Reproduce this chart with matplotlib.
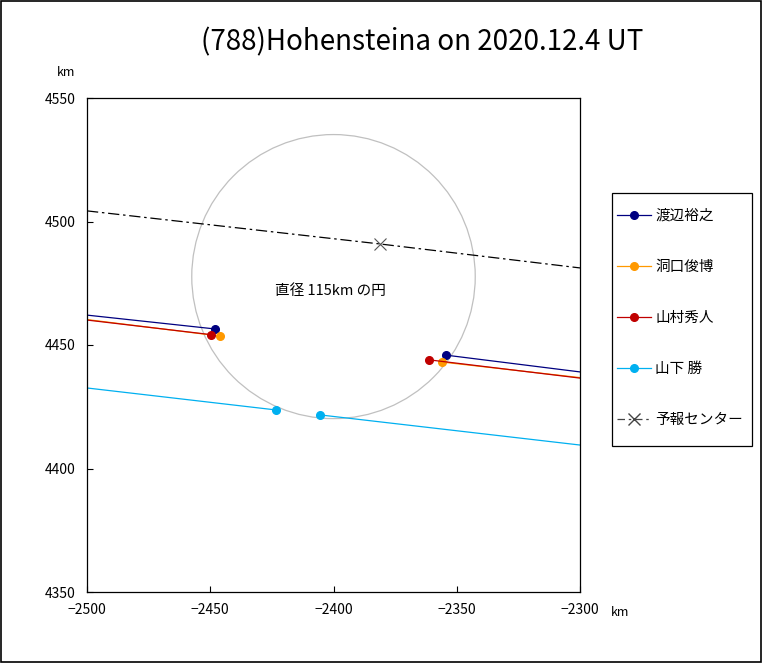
import matplotlib
matplotlib.use("Agg")
import matplotlib.pyplot as plt
from matplotlib.patches import Circle, Rectangle

plt.rcParams['font.family'] = ['Noto Sans CJK JP', 'DejaVu Sans']

# observer chords: x/y at left edge, disappearance, reappearance, right edge (km)
observers = ["渡辺裕之", "洞口俊博", "山村秀人", "山下 勝"]
colors = ["#000080", "#FF9900", "#C00000", "#00B0F0"]
chord_x = [
    [-2500, -2448.1, -2354.4, -2300],
    [-2500, -2446.0, -2356.0, -2300],
    [-2500, -2449.7, -2361.3, -2300],
    [-2500, -2423.3, -2405.5, -2300],
]
chord_y = [
    [4462.1, 4456.5, 4445.9, 4439.1],
    [4460.3, 4453.6, 4443.1, 4436.8],
    [4460.1, 4454.2, 4444.0, 4436.6],
    [4432.6, 4423.7, 4421.7, 4409.5],
]

# prediction center line
center_x = [-2500, -2381.1, -2300]
center_y = [4504.3, 4490.9, 4481.2]

circle_center = (-2400, 4477.7)
circle_diameter = 115

fig = plt.figure(figsize=(7.63, 6.63), dpi=100)
ax = fig.add_axes([87 / 763, 1 - 592 / 663, 493 / 763, 494 / 663])

ax.add_patch(Circle(circle_center, circle_diameter / 2, fill=False,
                    edgecolor="#c0c0c0", linewidth=0.9))
ax.text(-2423.7, 4472, "直径 115km の円", ha="left", va="center", fontsize=10.5)

ax.plot(center_x, center_y, color="black", linewidth=0.9, dashes=(9, 3, 2, 3))
ax.plot(center_x[1], center_y[1], marker="x", color="#555555",
        markersize=8, markeredgewidth=0.8, linestyle="none")

for name, c, xs, ys in zip(observers, colors, chord_x, chord_y):
    ax.plot(xs[:2], ys[:2], color=c, linewidth=0.9)
    ax.plot(xs[2:], ys[2:], color=c, linewidth=0.9)
    ax.plot(xs[1:3], ys[1:3], color=c, marker="o", markersize=5.5, linestyle="none")

ax.set_xlim(-2500, -2300)
ax.set_ylim(4350, 4550)
ax.set_xticks([-2500, -2450, -2400, -2350, -2300])
ax.set_yticks([4350, 4400, 4450, 4500, 4550])
ax.tick_params(direction="in", labelsize=10, length=4, pad=8)
for s in ax.spines.values():
    s.set_linewidth(0.9)

fig.text(66 / 763, 1 - 73 / 663, "km", fontsize=9, ha="center", va="center")
fig.text(620 / 763, 1 - 612 / 663, "km", fontsize=9, ha="center", va="center")

fig.text(422 / 763, 1 - 42 / 663, "(788)Hohensteina on 2020.12.4 UT",
         fontsize=20, ha="center", va="center")

# legend handles (frame drawn separately)
handles = []
for name, c in zip(observers, colors):
    h, = ax.plot([], [], color=c, marker="o", markersize=5.5, linewidth=0.9, label=name)
    handles.append(h)
h, = ax.plot([], [], color="#444444", marker="x", markersize=8, linewidth=0.9,
             dashes=(6, 3, 2, 3), label="予報センター")
handles.append(h)
leg = fig.legend(handles=handles, loc="center",
                 bbox_to_anchor=(680 / 763, 1 - 318 / 663),
                 fontsize=10.5, labelspacing=2.55, handlelength=2.3,
                 handletextpad=0.3, borderpad=0.2, frameon=False)
fig.patches.append(Rectangle((612 / 763, 1 - 446 / 663), 140 / 763, 253 / 663,
                             transform=fig.transFigure, fill=False,
                             edgecolor="black", linewidth=0.9))

fig.patches.append(Rectangle((0.001, 0.001), 0.997, 0.997, transform=fig.transFigure,
                             fill=False, edgecolor="black", linewidth=1.2))

fig.savefig("out.png", dpi=100)
